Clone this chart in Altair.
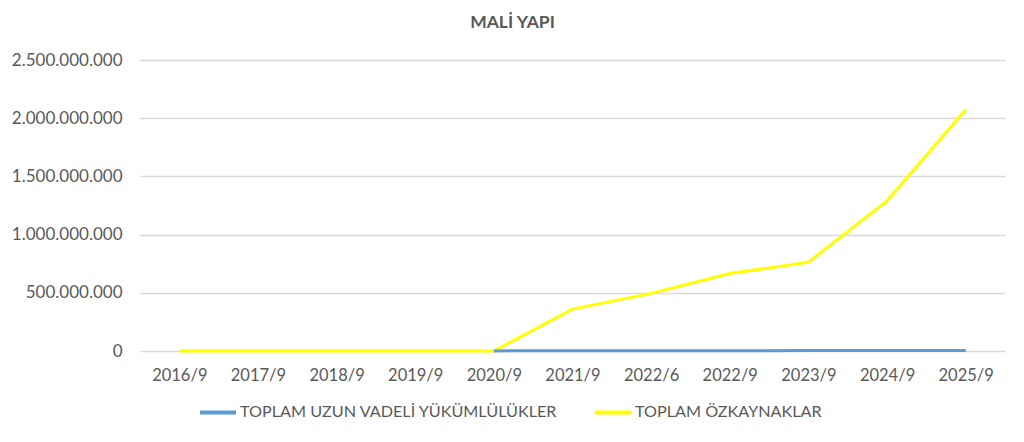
import altair as alt
import pandas as pd

categories = ["2016/9", "2017/9", "2018/9", "2019/9", "2020/9", "2021/9",
              "2022/6", "2022/9", "2023/9", "2024/9", "2025/9"]
uzun_vadeli = [None, None, None, None, 1_000_000, 2_000_000,
               2_500_000, 3_000_000, 3_500_000, 4_000_000, 4_500_000]
ozkaynaklar = [0, 0, 0, 0, 0, 360_000_000,
               495_000_000, 665_000_000, 763_000_000, 1_290_000_000, 2_072_000_000]

S1 = "TOPLAM UZUN VADELİ YÜKÜMLÜLÜKLER"
S2 = "TOPLAM ÖZKAYNAKLAR"

rows = []
for c, a, b in zip(categories, uzun_vadeli, ozkaynaklar):
    if a is not None:
        rows.append({"period": c, "series": S1, "value": a})
    rows.append({"period": c, "series": S2, "value": b})
df = pd.DataFrame(rows)

FONT = "Lato"
GREY = "#595959"

chart = alt.Chart(df).mark_line(strokeWidth=3).encode(
    x=alt.X("period:O", sort=categories, title=None,
            scale=alt.Scale(type="point", padding=0.5),
            axis=alt.Axis(labelAngle=0, ticks=False, domain=False, grid=False,
                          labelPadding=16, labelFontSize=16.5, labelColor=GREY,
                          labelFont=FONT)),
    y=alt.Y("value:Q", title=None,
            scale=alt.Scale(domain=[0, 2_500_000_000], nice=False),
            axis=alt.Axis(values=[0, 500_000_000, 1_000_000_000, 1_500_000_000,
                                  2_000_000_000, 2_500_000_000],
                          labelExpr="replace(format(datum.value, ',d'), /,/g, '.')",
                          ticks=False, domain=False, gridColor="#d9d9d9",
                          gridWidth=1.3, labelPadding=18, labelFontSize=17,
                          labelColor=GREY, labelFont=FONT)),
    color=alt.Color("series:N", sort=[S1, S2], title=None,
                    scale=alt.Scale(domain=[S1, S2], range=["#5B9BD5", "#FFFF00"]),
                    legend=alt.Legend(orient="none", legendX=58, legendY=332,
                                      direction="horizontal", symbolType="stroke",
                                      symbolSize=1296, symbolStrokeWidth=4,
                                      labelFontSize=16.2, labelColor=GREY,
                                      labelFont=FONT, labelOffset=2,
                                      columnPadding=29, labelLimit=500)),
    order=alt.Order("period_idx:Q"),
).transform_calculate(
    period_idx="indexof(" + str(categories) + ", datum.period)"
).properties(
    width=865,
    height=291,
    autosize=alt.AutoSizeParams(type="none"),
    padding={"left": 132, "top": 52, "right": 11, "bottom": 80},
    title=alt.Title("MALİ YAPI", fontSize=17.5, font=FONT, fontWeight="bold",
                    color=GREY, anchor="middle", dx=-60, offset=20),
).configure_view(stroke=None)

chart.save("out.html", embed_options={"renderer": "svg", "actions": False})
